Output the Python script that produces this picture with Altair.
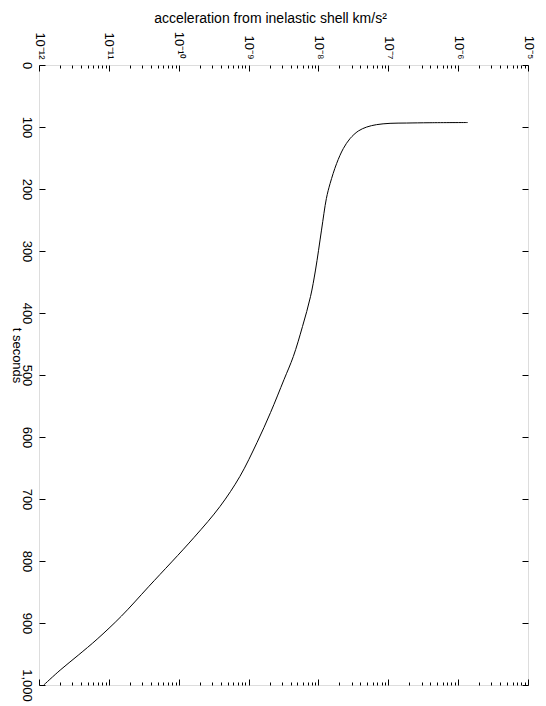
import altair as alt
import pandas as pd

# data
t_seconds = [92.8, 93.1, 93.6, 94.1, 96.2, 100.1, 106.5, 118.8, 134.8, 159.0, 191.1, 215.3,
             266.3, 330.7, 373.6, 421.9, 470.2, 507.6, 560.7, 609.0, 663.7, 712.0, 761.9,
             840.7, 889.0, 926.0, 952.0, 976.0, 1000.0]
accel = [1.37e-6, 3.95e-7, 1.83e-7, 1.06e-7, 6.8e-8, 4.9e-8, 3.72e-8, 2.83e-8, 2.27e-8,
         1.82e-8, 1.47e-8, 1.30e-8, 1.107e-8, 9.08e-9, 7.7e-9, 5.91e-9, 4.37e-9, 3.21e-9,
         2.06e-9, 1.32e-9, 7.5e-10, 3.9e-10, 1.66e-10, 3.76e-11, 1.51e-11, 6.8e-12,
         3.64e-12, 2.01e-12, 1.17e-12]

decade_exps = [-12, -11, -10, -9, -8, -7, -6, -5]
decade_labels = ["10⁻¹²", "10⁻¹¹", "10⁻¹⁰", "10⁻⁹", "10⁻⁸", "10⁻⁷", "10⁻⁶", "10⁻⁵"]
minor_mults = [2, 3, 4, 5, 6, 7, 8, 9]
t_ticks = [0, 100, 200, 300, 400, 500, 600, 700, 800, 900, 1000]

decades = [10.0 ** e for e in decade_exps]
minors = [m * 10.0 ** e for e in decade_exps[:-1] for m in minor_mults]

df = pd.DataFrame({"t": t_seconds, "a": accel})

W, H = 489, 620
FONT = "Liberation Sans"

xs = alt.Scale(type="log", domain=[decades[0], decades[-1]], nice=False)
ys = alt.Scale(domain=[0, 1000], reverse=True, nice=False, zero=False)

label_arr = "[" + ",".join("'" + s + "'" for s in decade_labels) + "]"
label_expr = label_arr + "[round(log(datum.value)/LN10) + 12]"

main = alt.Chart(df).mark_line(color="black", strokeWidth=1, interpolate="catmull-rom").encode(
    x=alt.X("a:Q", scale=xs, axis=alt.Axis(
        orient="top", values=decades, labelExpr=label_expr, labelAngle=90,
        labelAlign="right", labelBaseline="middle", labelPadding=6, labelFlush=False,
        labelOverlap=False, ticks=False, tickSize=0, domain=False, grid=False,
        labelFontSize=13, labelFont=FONT, labelColor="black",
        title="acceleration from inelastic shell km/s²", titleX=231, titleY=-47,
        titleAlign="center", titleBaseline="middle", titleFont=FONT, titleFontSize=14,
        titleFontWeight="normal", titleColor="black")),
    y=alt.Y("t:Q", scale=ys, axis=alt.Axis(
        orient="left", values=t_ticks, labelAngle=90, labelAlign="center",
        labelBaseline="top", labelPadding=7, labelFlush=False, labelOverlap=False,
        ticks=False, tickSize=0, domain=False, grid=False,
        labelFontSize=13, labelFont=FONT, labelColor="black",
        title="t seconds", titleAngle=90, titleX=-23, titleY=290,
        titleAlign="center", titleBaseline="middle", titleFont=FONT, titleFontSize=13,
        titleFontWeight="normal", titleColor="black")),
    order="t:Q",
)


def tick_layer(x_orient, x_values, x_size, y_orient=None):
    xax = alt.Axis(orient=x_orient, offset=-H, values=x_values, tickSize=x_size,
                   tickColor="black", tickWidth=1, labels=False, domain=False,
                   grid=False, title=None)
    if y_orient is None:
        yenc = alt.Y("t:Q", scale=ys, axis=None)
    else:
        yax = alt.Axis(orient=y_orient, offset=-W, values=t_ticks, tickSize=6,
                       tickColor="black", tickWidth=1, labels=False, domain=False,
                       grid=False, title=None)
        yenc = alt.Y("t:Q", scale=ys, axis=yax)
    return alt.Chart(df).mark_line(strokeOpacity=0).encode(
        x=alt.X("a:Q", scale=xs, axis=xax), y=yenc, order="t:Q")


layers = [
    main,
    tick_layer("bottom", decades, 6, "right"),   # top edge major, left edge ticks
    tick_layer("bottom", minors, 3, "left"),     # top edge minor, right edge ticks
    tick_layer("top", decades, 6),               # bottom edge major
    tick_layer("top", minors, 3),                # bottom edge minor
]

chart = alt.layer(*layers).resolve_axis(x="independent", y="independent").properties(
    width=W, height=H,
    autosize=alt.AutoSizeParams(type="none"),
    padding={"left": 31, "top": 57, "right": 10, "bottom": 20},
).configure_view(stroke="black", strokeWidth=1).configure(background="white")

chart.save("out.html", embed_options={"renderer": "svg", "actions": False})
